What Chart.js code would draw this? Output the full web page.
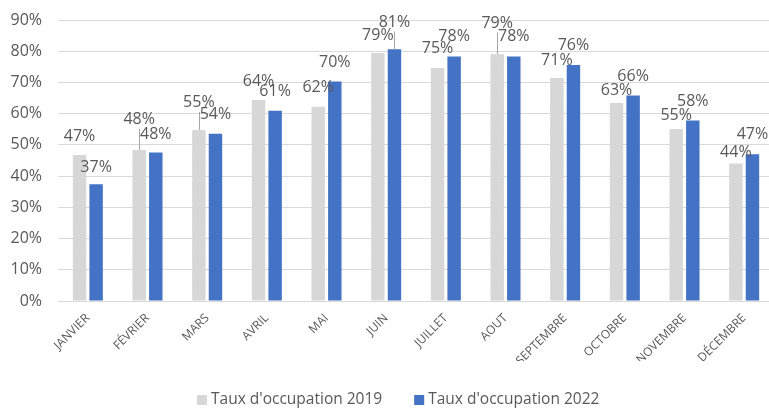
<!DOCTYPE html>
<html>
<head>
<meta charset="utf-8">
<script src="https://cdn.jsdelivr.net/npm/chart.js@4/dist/chart.umd.min.js"></script>
<style>
  html, body { margin: 0; padding: 0; background: #fff; overflow: hidden; }
  #wrap { position: relative; width: 774px; height: 408px; }
</style>
</head>
<body>
<div id="wrap"><canvas id="c"></canvas></div>
<script>
// ---- data ----
const categories = ['JANVIER', 'FÉVRIER', 'MARS', 'AVRIL', 'MAI', 'JUIN', 'JUILLET', 'AOUT', 'SEPTEMBRE', 'OCTOBRE', 'NOVEMBRE', 'DÉCEMBRE'];
const seriesNames = ["Taux d'occupation 2019", "Taux d'occupation 2022"];
const values2019 = [46.8, 48.4, 54.8, 64.4, 62.2, 79.4, 74.6, 79.0, 71.4, 63.4, 55.1, 44.0];
const values2022 = [37.4, 47.6, 53.6, 60.9, 70.3, 80.6, 78.3, 78.3, 75.6, 65.8, 57.8, 47.0];
const yTickValues = [0, 10, 20, 30, 40, 50, 60, 70, 80, 90];

// ---- label placement (style, px above bar top) ----
const labelRise2019 = [18, 30, 27, 18, 19, 18, 20, 31, 18, 13, 14, 11];
const labelRise2022 = [17, 18, 19, 19, 19, 27, 20, 20, 20, 19, 19, 20];
const leader2019 = [0, 1, 1, 0, 0, 0, 0, 1, 0, 0, 0, 0];
const leader2022 = [0, 0, 0, 0, 0, 1, 0, 0, 0, 0, 0, 0];

const FONT = "'Open Sans', 'Noto Sans', sans-serif";
const TEXT = '#595959';
const COL2022 = '#4472c4';

// light grey finely dotted fill for the 2019 series
function makePattern() {
  const p = document.createElement('canvas');
  p.width = 3; p.height = 3;
  const g = p.getContext('2d');
  g.fillStyle = '#dadada';
  g.fillRect(0, 0, 3, 3);
  g.fillStyle = '#d1d1d1';
  g.fillRect(0, 0, 1, 1);
  g.fillRect(2, 1, 1, 1);
  g.fillRect(1, 2, 1, 1);
  return g.createPattern(p, 'repeat');
}
const COL2019 = makePattern();

const dataLabels = {
  id: 'dataLabels',
  afterDatasetsDraw(chart) {
    const ctx = chart.ctx;
    const rises = [labelRise2019, labelRise2022];
    const leaders = [leader2019, leader2022];
    ctx.save();
    chart.data.datasets.forEach((ds, di) => {
      const meta = chart.getDatasetMeta(di);
      meta.data.forEach((bar, i) => {
        const v = ds.data[i];
        const cy = bar.y - rises[di][i];
        if (leaders[di][i]) {
          ctx.strokeStyle = '#a6a6a6';
          ctx.lineWidth = 1;
          ctx.beginPath();
          ctx.moveTo(Math.round(bar.x) + 0.5, cy + 9);
          ctx.lineTo(Math.round(bar.x) + 0.5, bar.y);
          ctx.stroke();
        }
        ctx.fillStyle = TEXT;
        ctx.font = '16px ' + FONT;
        ctx.textAlign = 'center';
        ctx.textBaseline = 'middle';
        ctx.fillText(Math.round(v) + '%', bar.x, cy);
      });
    });
    ctx.restore();
  }
};

const customLegend = {
  id: 'customLegend',
  afterDraw(chart) {
    const ctx = chart.ctx;
    ctx.save();
    ctx.font = '15.5px ' + FONT;
    ctx.textBaseline = 'middle';
    ctx.textAlign = 'left';
    const y = 400;
    let x = 197;
    chart.data.datasets.forEach((ds) => {
      ctx.fillStyle = ds.backgroundColor;
      ctx.fillRect(x, y - 5, 10, 10);
      ctx.fillStyle = TEXT;
      ctx.fillText(ds.label, x + 14, y);
      x += 14 + ctx.measureText(ds.label).width + 32;
    });
    ctx.restore();
  }
};

new Chart(document.getElementById('c'), {
  type: 'bar',
  data: {
    labels: categories,
    datasets: [
      { label: seriesNames[0], data: values2019, backgroundColor: COL2019, categoryPercentage: 0.556, barPercentage: 0.81 },
      { label: seriesNames[1], data: values2022, backgroundColor: COL2022, categoryPercentage: 0.556, barPercentage: 0.81 }
    ]
  },
  options: {
    responsive: true,
    maintainAspectRatio: false,
    animation: false,
    layout: { padding: { top: 0, right: 0, left: 0, bottom: 47 } },
    plugins: { legend: { display: false }, tooltip: { enabled: false } },
    scales: {
      x: {
        grid: { display: false, drawTicks: false },
        border: { display: true, color: '#d9d9d9', width: 1 },
        ticks: {
          color: TEXT, font: { family: FONT, size: 12 },
          minRotation: 45, maxRotation: 45, padding: 10, autoSkip: false
        },
        afterFit(scale) { scale.height = 60; }
      },
      y: {
        min: 0, max: 90,
        afterBuildTicks(scale) { scale.ticks = yTickValues.map(v => ({ value: v })); },
        grid: { color: '#d9d9d9', lineWidth: 1, drawTicks: false },
        border: { display: false },
        ticks: {
          color: TEXT, font: { family: FONT, size: 16, lineHeight: 0.5 }, padding: 16,
          callback: (v) => v + '%'
        },
        afterFit(scale) { scale.width = 58; }
      }
    }
  },
  plugins: [dataLabels, customLegend]
});
</script>
</body>
</html>
